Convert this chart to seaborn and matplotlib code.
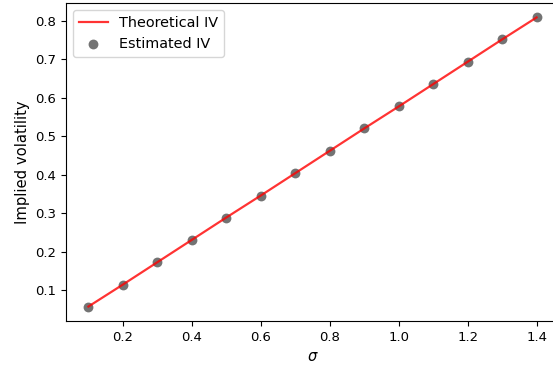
import matplotlib
matplotlib.use("Agg")
import matplotlib.pyplot as plt
import seaborn as sns
import pandas as pd

sigma = [0.1, 0.2, 0.3, 0.4, 0.5, 0.6, 0.7, 0.8, 0.9, 1.0, 1.1, 1.2, 1.3, 1.4]
theoretical_iv = [0.058, 0.115, 0.173, 0.231, 0.289, 0.346, 0.404, 0.462, 0.520, 0.577, 0.635, 0.693, 0.751, 0.808]
estimated_iv = [0.058, 0.115, 0.173, 0.231, 0.289, 0.346, 0.404, 0.462, 0.520, 0.577, 0.635, 0.693, 0.751, 0.808]

df = pd.DataFrame({"sigma": sigma, "theo": theoretical_iv, "est": estimated_iv})

plt.rcParams["font.family"] = ["DejaVu Sans"]
plt.rcParams["font.size"] = 10

DPI = 100
W, H = 553, 370
fig = plt.figure(figsize=(W / DPI, H / DPI), dpi=DPI)
ax = fig.add_axes([66 / W, 1 - 321 / H, (559 - 66) / W, (321 - 3) / H])

sns.lineplot(data=df, x="sigma", y="theo", ax=ax, color="red", alpha=0.8,
             linewidth=1.6, label="Theoretical IV")
sns.scatterplot(data=df, x="sigma", y="est", ax=ax, color="black", alpha=0.55,
                s=50, linewidth=0, label="Estimated IV")

ax.set_xlabel(r"$\sigma$", fontsize=10.6)
ax.set_ylabel("Implied volatility", fontsize=10.6)
ax.tick_params(labelsize=9.5)
ax.legend(loc="upper left", fontsize=10.4)

fig.savefig("out.png", dpi=DPI)
